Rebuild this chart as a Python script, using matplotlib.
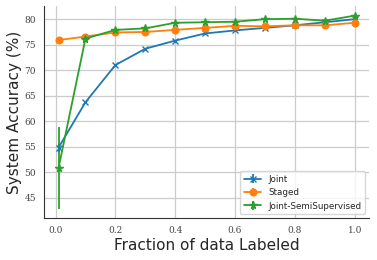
import numpy as np
import matplotlib
matplotlib.use("Agg")
import matplotlib.pyplot as plt
import seaborn as sns

sns.set_style("whitegrid")

# andel merket data
fraksjon = [0.01, 0.1, 0.2, 0.3, 0.4, 0.5, 0.6, 0.7, 0.8, 0.9, 1.0]

joint = [54.8, 63.7, 71.0, 74.2, 75.8, 77.2, 77.8, 78.3, 78.8, 79.4, 80.0]
joint_err = [0.8, 0, 0, 0, 0, 0, 0, 0, 0, 0, 0]

staged = [75.9, 76.6, 77.4, 77.5, 77.9, 78.3, 78.7, 78.6, 78.8, 78.8, 79.3]
staged_err = [0, 0, 0, 0, 0, 0, 0, 0, 0, 0, 0]

semi = [50.8, 76.2, 77.9, 78.2, 79.3, 79.4, 79.5, 80.0, 80.1, 79.7, 80.7]
semi_err = [8.0, 0, 0, 0, 0, 0, 0, 0, 0, 0, 0]

fig, ax = plt.subplots(figsize=(3.77, 2.6), dpi=100)

ax.errorbar(fraksjon, joint, yerr=joint_err, marker="x", markersize=5,
            linewidth=1.3, color="#1f77b4", label="Joint")
ax.errorbar(fraksjon, staged, yerr=staged_err, marker="o", markersize=4.8,
            linewidth=1.3, color="#ff7f0e", label="Staged")
ax.errorbar(fraksjon, semi, yerr=semi_err, marker="*", markersize=5.5,
            linewidth=1.3, color="#2ca02c", label="Joint-SemiSupervised")

ax.set_xlabel("Fraction of data Labeled", fontsize=11, labelpad=2)
ax.set_ylabel("System Accuracy (%)", fontsize=11, labelpad=2)
ax.set_xticks([0.0, 0.2, 0.4, 0.6, 0.8, 1.0])
ax.set_yticks([45, 50, 55, 60, 65, 70, 75, 80])
for lab in ax.get_xticklabels() + ax.get_yticklabels():
    lab.set_fontfamily("DejaVu Serif")
    lab.set_fontsize(6.5)
    lab.set_color("#444444")
ax.tick_params(axis="both", pad=2)
ax.grid(color="#cccccc", linewidth=0.9)

ax.spines["top"].set_visible(False)
ax.spines["right"].set_visible(False)
ax.spines["left"].set_color("#333333")
ax.spines["bottom"].set_color("#333333")

ax.legend(loc="lower right", fontsize=6.3, frameon=True)

fig.subplots_adjust(left=0.116, right=0.98, bottom=0.16, top=0.977)
fig.savefig("out.png", dpi=100)
